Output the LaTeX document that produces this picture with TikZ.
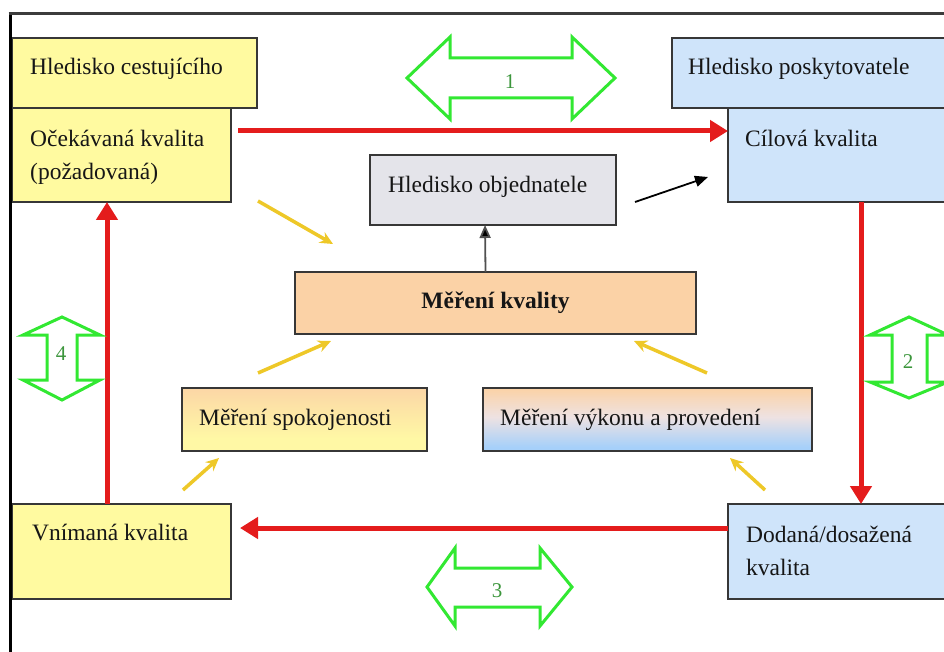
\documentclass[tikz,border=0pt]{standalone}
\usepackage{fontspec}
\setmainfont{Liberation Serif}
\usetikzlibrary{arrows.meta}
\definecolor{boxyellow}{RGB}{255,250,160}
\definecolor{boxblue}{RGB}{207,228,250}
\definecolor{boxgrey}{RGB}{228,228,234}
\definecolor{boxpeach}{RGB}{251,210,166}
\definecolor{gradblue}{RGB}{166,208,250}
\definecolor{gradmid}{RGB}{238,226,226}
\definecolor{gradyellow}{RGB}{255,248,165}
\definecolor{edgegrey}{RGB}{55,55,55}
\definecolor{redarr}{RGB}{228,28,28}
\definecolor{greenarr}{RGB}{50,232,50}
\definecolor{greentext}{RGB}{60,150,60}
\definecolor{goldarr}{RGB}{238,200,40}
\definecolor{textcol}{RGB}{22,22,22}
\definecolor{framegrey}{RGB}{60,60,60}
\definecolor{stemgrey}{RGB}{80,80,80}
\pgfdeclareverticalshading{vyshade}{100bp}{color(0bp)=(gradblue); color(28bp)=(gradblue); color(52bp)=(gradmid); color(75bp)=(boxpeach); color(100bp)=(boxpeach)}
\pgfdeclareverticalshading{spshade}{100bp}{color(0bp)=(gradyellow); color(35bp)=(gradyellow); color(80bp)=(boxpeach); color(100bp)=(boxpeach)}
\begin{document}
\begin{tikzpicture}[x=1pt,y=-1pt,
  box/.style={draw=edgegrey, line width=1.8pt, anchor=north west, inner sep=0pt, outer sep=0pt},
  txt/.style={anchor=base west, inner sep=0pt, text=textcol, font=\fontsize{23.5}{33}\selectfont},
  redarrow/.style={draw=redarr, line width=5pt, -{Triangle[length=18pt,width=21pt]}},
  goldarrow/.style={draw=goldarr, line width=3.5pt, -{Stealth[length=13pt,width=12pt]}},
  blackarrow/.style={draw=black, line width=1.8pt, -{Triangle[length=13pt,width=11pt]}},
  stemarrow/.style={draw=stemgrey, line width=1.8pt, -{Triangle[length=13pt,width=11pt,fill=black]}},
  greenshape/.style={draw=greenarr, line width=3pt, fill=white, line join=miter},
  greenlabel/.style={text=greentext, font=\fontsize{21}{24}\selectfont, inner sep=0pt}
]
\useasboundingbox (0,0) rectangle (944,652);
\clip (0,0) rectangle (944,652);
\fill[white] (0,0) rectangle (944,652);

% boxes
\node[box, fill=boxyellow, minimum width=245pt, minimum height=70pt] (hc) at (12,38) {};
\node[box, fill=boxyellow, minimum width=219pt, minimum height=94pt] (oc) at (12,108) {};
\node[box, fill=boxblue, minimum width=300pt, minimum height=70pt] (hp) at (672,38) {};
\node[box, fill=boxblue, minimum width=250pt, minimum height=94pt] (ci) at (728,108) {};
\node[box, fill=boxgrey, minimum width=246pt, minimum height=70pt] (ob) at (370,155) {};
\node[box, fill=boxpeach, minimum width=401pt, minimum height=62pt, text=textcol,
      font=\fontsize{23.5}{33}\selectfont\bfseries] (kv) at (295,272) {Měření kvality};
\node[box, shading=spshade, minimum width=245pt, minimum height=63pt] (sp) at (182,388) {};
\node[box, shading=vyshade, minimum width=329pt, minimum height=63pt] (vy) at (483,388) {};
\node[box, fill=boxyellow, minimum width=219pt, minimum height=95pt] (vn) at (12,504) {};
\node[box, fill=boxblue, minimum width=250pt, minimum height=95pt] (do) at (728,504) {};

% texts
\node[txt] at ([xshift=18pt,yshift=-37pt]hc.north west) {Hledisko cestujícího};
\node[txt] at ([xshift=16pt,yshift=-37pt]hp.north west) {Hledisko poskytovatele};
\node[txt] at ([xshift=18pt,yshift=-39pt]oc.north west) {\begin{tabular}[t]{@{}l@{}}Očekávaná kvalita\\(požadovaná)\end{tabular}};
\node[txt] at ([xshift=17pt,yshift=-39pt]ci.north west) {Cílová kvalita};
\node[txt] at ([xshift=18pt,yshift=-38pt]ob.north west) {Hledisko objednatele};
\node[txt] at ([xshift=17pt,yshift=-37pt]sp.north west) {Měření spokojenosti};
\node[txt] at ([xshift=17pt,yshift=-37pt]vy.north west) {Měření výkonu a provedení};
\node[txt] at ([xshift=20pt,yshift=-36pt]vn.north west) {Vnímaná kvalita};
\node[txt] at ([xshift=18pt,yshift=-38pt]do.north west) {\begin{tabular}[t]{@{}l@{}}Dodaná/dosažená\\kvalita\end{tabular}};

% frame
\draw[black, line width=3pt] (10,660) -- (10,12);
\draw[framegrey, line width=2.5pt] (8.5,13.5) -- (950,13.5);

% red arrows
\draw[redarrow] ([xshift=7pt,yshift=-23pt]oc.north east) -- ([yshift=-23pt]ci.north west);
\draw[redarrow] ([xshift=133pt]ci.south west) -- ([xshift=133pt]do.north west);
\draw[redarrow] ([yshift=-24pt]do.north west) -- ([xshift=9pt,yshift=-24pt]vn.north east);
\draw[redarrow] ([xshift=95pt]vn.north west) -- ([xshift=95pt]oc.south west);

% green double arrows
\draw[greenshape] (407,78) -- (450,37) -- (450,58) -- (572,58) -- (572,37) -- (615,78)
  -- (572,119) -- (572,98) -- (450,98) -- (450,119) -- cycle;
\node[greenlabel] (g1) at (510,82) {1};
\draw[greenshape] (909,317) -- (948,335) -- (927,335) -- (927,382) -- (948,382) -- (909,398)
  -- (870,382) -- (892,382) -- (892,335) -- (870,335) -- cycle;
\node[greenlabel] (g2) at (908,362) {2};
\draw[greenshape] (427,587) -- (455,548) -- (455,568) -- (540,568) -- (540,548) -- (572,587)
  -- (540,626) -- (540,607) -- (455,607) -- (455,626) -- cycle;
\node[greenlabel] (g3) at (497,591) {3};
\draw[greenshape] (62,317) -- (100,335) -- (77,335) -- (77,380) -- (100,380) -- (62,400)
  -- (23,380) -- (47,380) -- (47,335) -- (23,335) -- cycle;
\node[greenlabel] (g4) at (61,354) {4};

% gold arrows
\coordinate (ya1) at (258,201); \coordinate (ya2) at (333,244);
\coordinate (yb1) at (258,373); \coordinate (yb2) at (331,341);
\coordinate (yc1) at (183,490); \coordinate (yc2) at (219,458);
\coordinate (yd1) at (707,373); \coordinate (yd2) at (634,341);
\coordinate (ye1) at (765,490); \coordinate (ye2) at (730,458);
\draw[goldarrow] (ya1) -- (ya2);
\draw[goldarrow] (yb1) -- (yb2);
\draw[goldarrow] (yc1) -- (yc2);
\draw[goldarrow] (yd1) -- (yd2);
\draw[goldarrow] (ye1) -- (ye2);

% black arrows
\draw[stemarrow] ([xshift=-10pt]kv.north) -- ([xshift=-8pt]ob.south);
\coordinate (bk1) at (635,202); \coordinate (bk2) at (708,177);
\draw[blackarrow] (bk1) -- (bk2);
\end{tikzpicture}
\end{document}
